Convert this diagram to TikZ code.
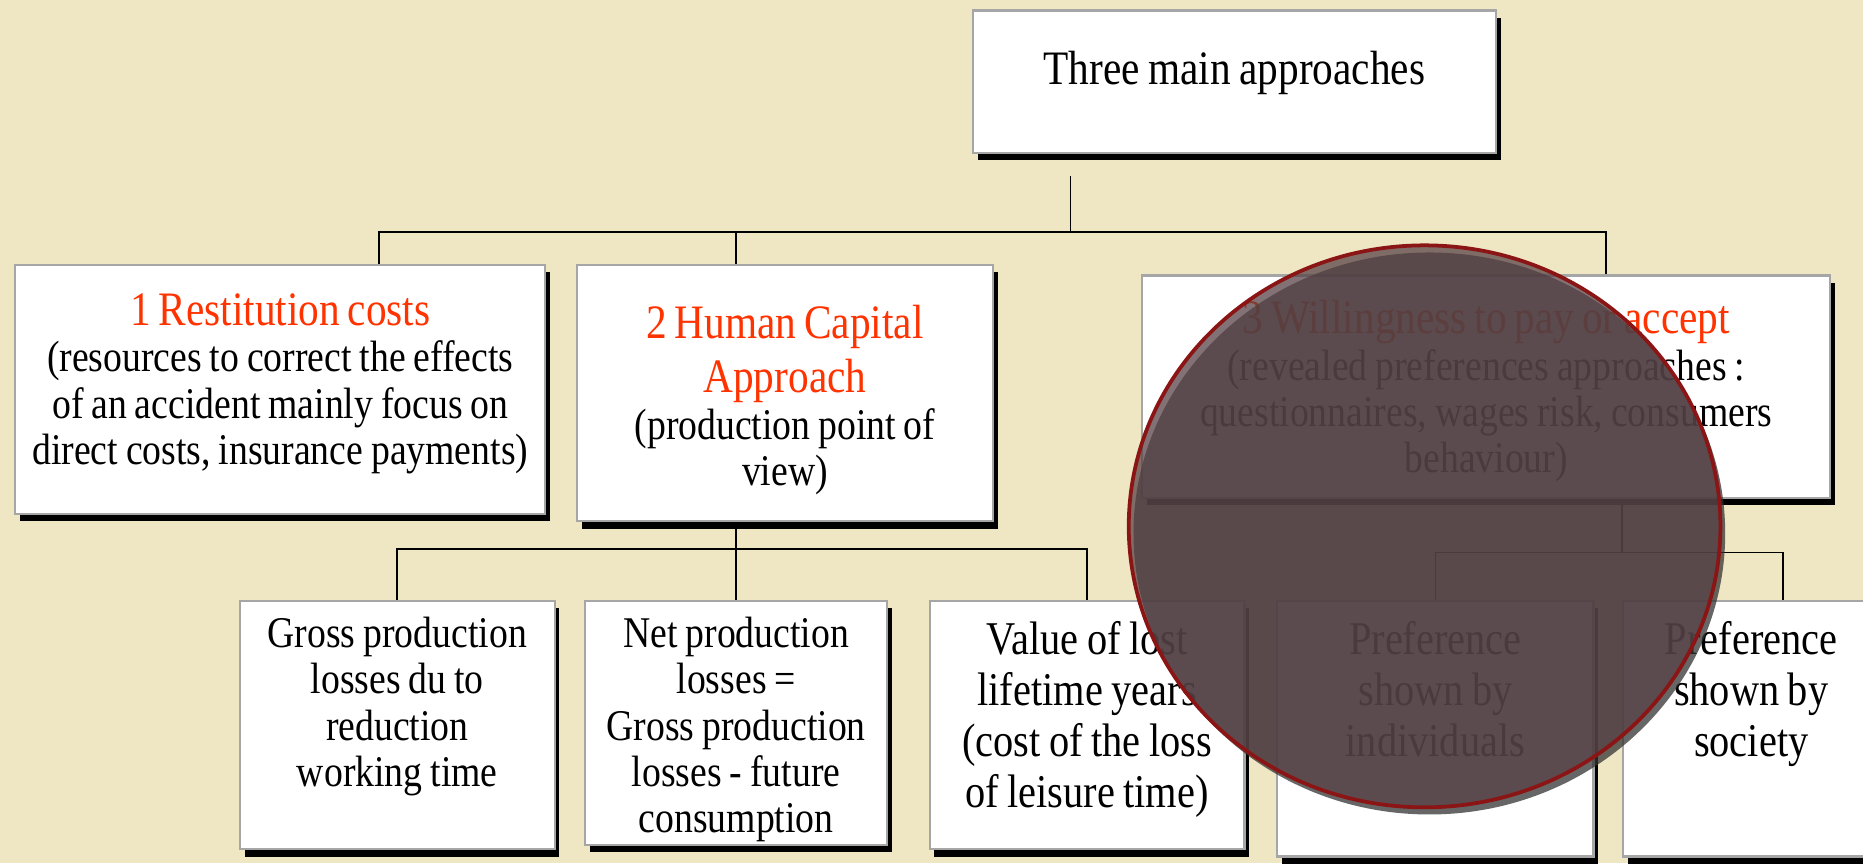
\documentclass[tikz,border=0pt]{standalone}
\usepackage{fontspec}
\setmainfont{Liberation Serif}[FakeStretch=0.86]
\usepackage{tikz}
\usetikzlibrary{shadows, positioning}
\definecolor{paper}{RGB}{239,231,196}
\definecolor{titlered}{RGB}{255,51,0}
\definecolor{lensred}{RGB}{139,20,20}
\definecolor{lensfill}{RGB}{88,66,70}

\begin{document}
\begin{tikzpicture}[line width=0.8pt,
    box/.style={draw=gray!70, line width=1pt, fill=white,
        inner sep=0pt, align=center,
        font=\fontsize{21}{22.2}\selectfont,
        execute at begin node={\spaceskip=0.18em\relax},
        drop shadow={shadow xshift=0.08cm, shadow yshift=-0.12cm, fill=black, opacity=1}},
    bigbox/.style={box, font=\fontsize{22.5}{24.5}\selectfont}]

% Background
\fill[paper] (0,0) rectangle (31.36,-14.53);
\useasboundingbox (0,0) rectangle (31.36,-14.53);

% Top block
\node[box,
    anchor=north west,
    text width=8.8cm,
    text height=1.24cm, text depth=1.16cm,
    font=\fontsize{23}{26}\selectfont
] (approaches) at (16.36,-0.16) {Three main approaches};

% The three approaches
\node[box,
    anchor=north west,
    text width=8.92cm,
    text height=1.02cm, text depth=3.18cm
] (restit) at (0.24,-4.44) {\textcolor{titlered}{\fontsize{23}{26}\selectfont 1 Restitution costs}\\
    (resources to correct the effects\\ of an accident mainly focus on\\ direct costs, insurance payments)};

\node[box,
    right=0.5cm of restit.north east, anchor=north west,
    text width=7cm,
    text height=1.24cm, text depth=3.08cm
] (human) {{\color{titlered}\fontsize{23}{26}\selectfont 2 Human Capital\\ Approach\\}(production point of\\ view)};

\node[box,
    right=2.48cm of human.north east, anchor=north west, yshift=-0.18cm,
    text width=11.58cm,
    text height=0.98cm, text depth=2.76cm
] (wtp) {\textcolor{titlered}{\fontsize{23}{26}\selectfont 3 Willingness to pay or accept}\\
    (revealed preferences approaches :\\ questionnaires, wages risk, consumers\\ behaviour)};

% Sub-blocks
\node[box,
    anchor=north west,
    text width=5.3cm,
    text height=0.78cm, text depth=3.4cm
] (grossprod) at (4.02,-10.10) {Gross production\\ losses du to\\ reduction\\ working time};

\node[box,
    right=0.48cm of grossprod.north east, anchor=north west,
    text width=5.08cm,
    text height=0.78cm, text depth=3.32cm
] (netprod) {Net production\\ losses =\\ Gross production\\ losses - future\\ consumption};

\node[bigbox,
    right=0.68cm of netprod.north east, anchor=north west,
    text width=5.3cm,
    text height=0.9cm, text depth=3.28cm
] (lifeyears) {Value of lost\\ lifetime years\\ (cost of the loss\\ of leisure time)};

\node[bigbox,
    right=0.52cm of lifeyears.north east, anchor=north west,
    text width=5.32cm,
    text height=0.9cm, text depth=3.4cm
] (individ) {Preference\\ shown by\\ individuals};

\node[bigbox,
    right=0.46cm of individ.north east, anchor=north west,
    text width=4.32cm,
    text height=0.9cm, text depth=3.4cm
] (society) {Preference\\ shown by\\ society};

% Connectors
\coordinate (root) at (18.02,-2.96);
\coordinate (bar1) at (18.02,-3.90);
\coordinate (bar2) at ([yshift=0.86cm]netprod.north);
\coordinate (bar3) at ([yshift=0.8cm]society.north west);

\draw (root) -- (bar1);
\draw ([xshift=1.66cm]restit.north) |- (bar1) -| ([xshift=2.01cm]wtp.north);
\draw ([xshift=-0.82cm]human.north) |- (bar1);
\draw (human.south -| netprod.north) -- (netprod.north);
\draw (grossprod.north) |- (bar2) -| (lifeyears.north);
\draw (wtp.south -| bar3) -- (bar3);
\draw (individ.north) |- (bar3) -| ([xshift=0.54cm]society.north);

% Lens
\fill[gray!40!black, opacity=0.75] (24.06,-8.98) ellipse [x radius=4.98cm, y radius=4.73cm];
\draw[lensred, line width=1.8pt, fill=lensfill, fill opacity=0.74] (23.98,-8.86) ellipse [x radius=4.98cm, y radius=4.73cm];
\end{tikzpicture}
\end{document}
